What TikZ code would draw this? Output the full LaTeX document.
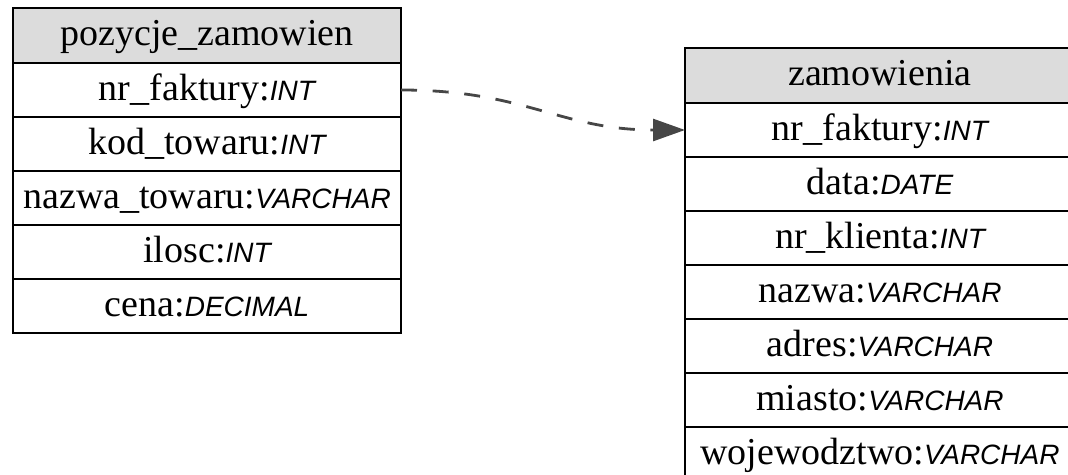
\documentclass[tikz,border=0pt]{standalone}
\usepackage{fontspec}
\setmainfont{Liberation Serif}
\newfontfamily\typefont{Liberation Sans}
\usetikzlibrary{positioning}
\usetikzlibrary{arrows.meta}
\definecolor{hdrgray}{HTML}{DCDCDC}
\definecolor{edgegray}{HTML}{464646}
\newcommand{\TYPE}[1]{{\typefont\itshape\fontsize{28}{30}\selectfont #1}}
\tikzset{
  cell/.style={draw=black, line width=2.8pt, fill=white, outer sep=0pt,
    inner sep=0pt, minimum height=54pt, text height=27pt, text depth=7pt,
    font=\fontsize{38}{42}\selectfont},
  hdr/.style={cell, fill=hdrgray, minimum height=55pt},
  fk/.style={draw=edgegray, line width=2.8pt, dash pattern=on 16pt off 15.7pt,
    -{Triangle[length=32pt,width=22pt]}}
}

\begin{document}
\begin{tikzpicture}

  \newcommand\WL{388pt};
  \newcommand\WR{390pt};

  \useasboundingbox (0,0) rectangle (1068pt,-474pt);
  \clip (0,0) rectangle (1068pt,-474pt);

  %% pozycje_zamowien
  \node[hdr, minimum width=\WL] (pz) at (207pt,-35.5pt) {pozycje\_zamowien};
  \node[cell, minimum width=\WL, below=0pt of pz] (pz1) {nr\_faktury:\TYPE{INT}};
  \node[cell, minimum width=\WL, below=0pt of pz1] (pz2) {kod\_towaru:\TYPE{INT}};
  \node[cell, minimum width=\WL, below=0pt of pz2] (pz3) {nazwa\_towaru:\TYPE{VARCHAR}};
  \node[cell, minimum width=\WL, below=0pt of pz3] (pz4) {ilosc:\TYPE{INT}};
  \node[cell, minimum width=\WL, below=0pt of pz4] (pz5) {cena:\TYPE{DECIMAL}};

  %% zamowienia
  \node[hdr, minimum width=\WR] (zw) at (880pt,-75.5pt) {zamowienia};
  \node[cell, minimum width=\WR, below=0pt of zw] (zw1) {nr\_faktury:\TYPE{INT}};
  \node[cell, minimum width=\WR, below=0pt of zw1] (zw2) {data:\TYPE{DATE}};
  \node[cell, minimum width=\WR, below=0pt of zw2] (zw3) {nr\_klienta:\TYPE{INT}};
  \node[cell, minimum width=\WR, below=0pt of zw3] (zw4) {nazwa:\TYPE{VARCHAR}};
  \node[cell, minimum width=\WR, below=0pt of zw4] (zw5) {adres:\TYPE{VARCHAR}};
  \node[cell, minimum width=\WR, below=0pt of zw5] (zw6) {miasto:\TYPE{VARCHAR}};
  \node[cell, minimum width=\WR, below=0pt of zw6] (zw7) {wojewodztwo:\TYPE{VARCHAR}};

  %% pz1 -> zw1
  \draw[fk] (pz1.east) .. controls +(125pt,0pt) and +(-125pt,0pt) .. (zw1.west);

\end{tikzpicture}
\end{document}
